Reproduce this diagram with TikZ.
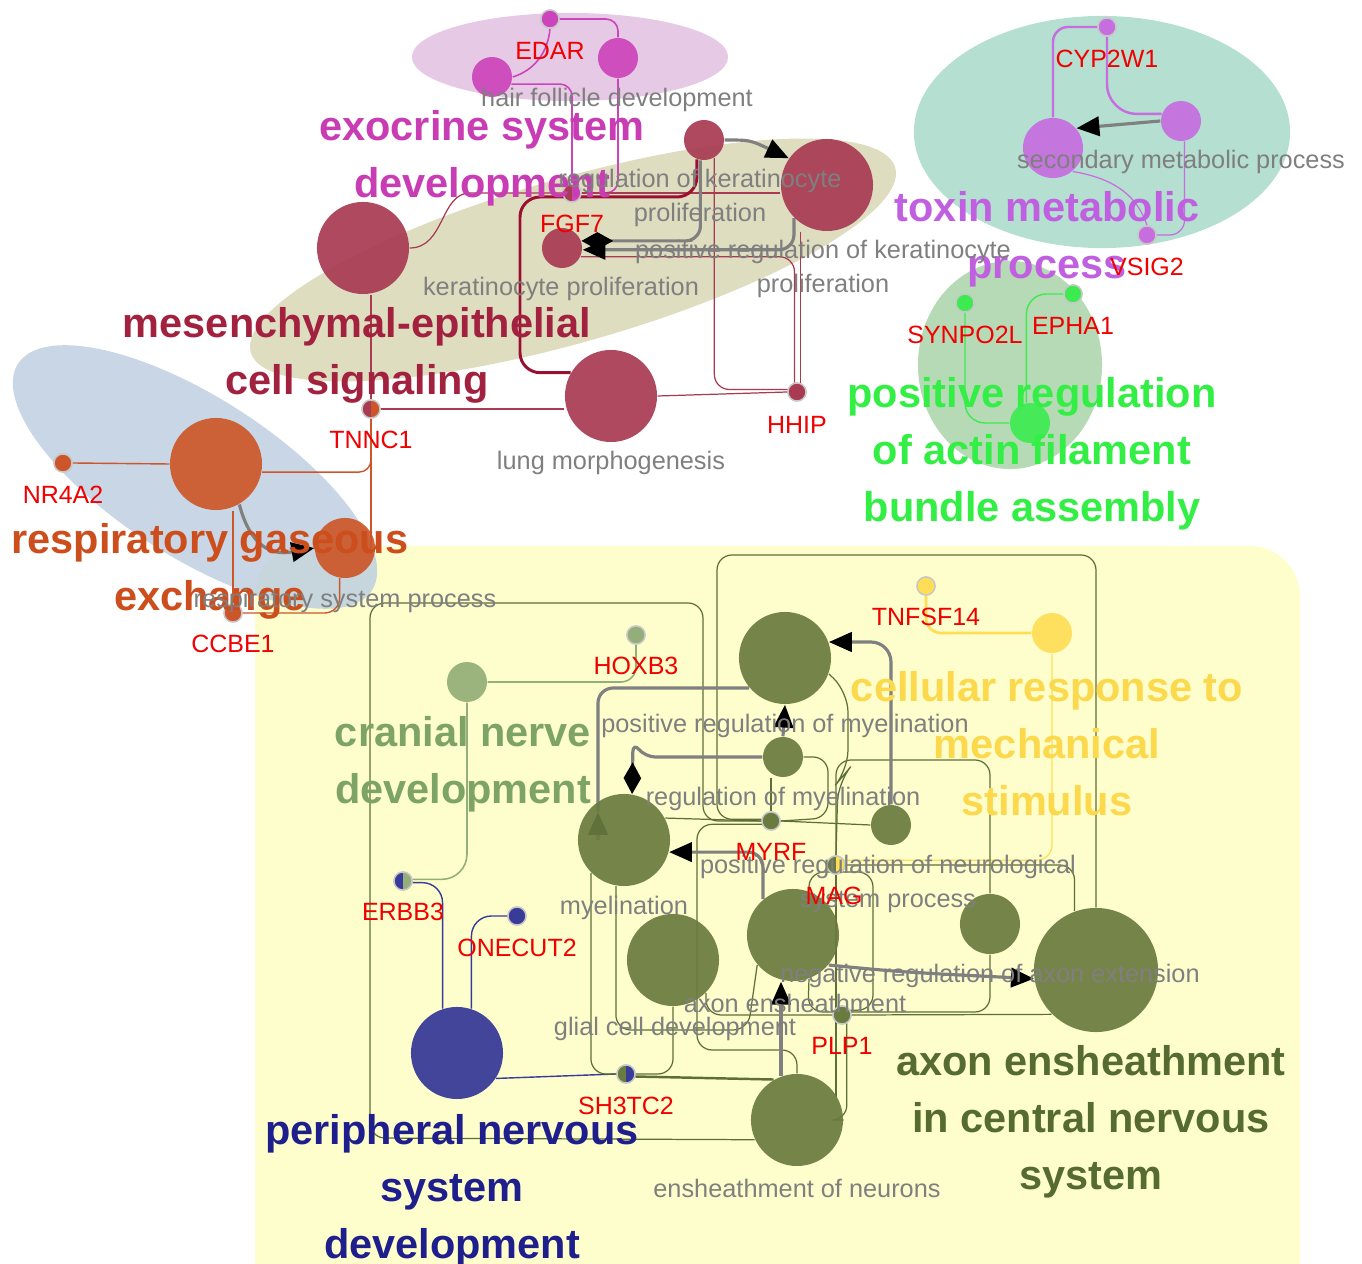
\documentclass[tikz,border=0pt]{standalone}
\usepackage{fontspec}
\setmainfont{Liberation Sans}
\usetikzlibrary{arrows.meta}
\definecolor{pinkbg}{HTML}{E6C9E4}
\definecolor{tealbg}{HTML}{B4DFD1}
\definecolor{khakibg}{HTML}{DEDDC0}
\definecolor{bluebg}{HTML}{BECFE0}
\definecolor{greenbg}{HTML}{B6DAB6}
\definecolor{yellowbg}{HTML}{FEFECC}
\definecolor{exomag}{HTML}{CC44BB}
\definecolor{exotext}{HTML}{C83CB4}
\definecolor{mescrim}{HTML}{A83A52}
\definecolor{mestext}{HTML}{A2213F}
\definecolor{mesdark}{HTML}{9A1030}
\definecolor{resporange}{HTML}{CC5629}
\definecolor{resptext}{HTML}{CC4E1C}
\definecolor{toxpurple}{HTML}{C66EE0}
\definecolor{toxtext}{HTML}{C060E0}
\definecolor{actgreen}{HTML}{3DEB50}
\definecolor{acttext}{HTML}{33EE44}
\definecolor{cranlight}{HTML}{93AE78}
\definecolor{crantext}{HTML}{7DA466}
\definecolor{mechyellow}{HTML}{FFDE55}
\definecolor{mechtext}{HTML}{FCD84C}
\definecolor{pnsblue}{HTML}{383C98}
\definecolor{pnstext}{HTML}{1E1E8C}
\definecolor{axolive}{HTML}{6A7B40}
\definecolor{axline}{HTML}{5E6E38}
\definecolor{axtext}{HTML}{556B2F}
\definecolor{gotext}{HTML}{7F7F7F}
\definecolor{genered}{HTML}{F00000}
\begin{document}
\begin{tikzpicture}[x=0.01cm,y=-0.01cm,
	term/.style={circle,inner sep=0pt},
	tsmall/.style={term,minimum size=0.4cm},
	tmid/.style={term,minimum size=0.6cm},
	tbig/.style={term,minimum size=0.92cm},
	thuge/.style={term,minimum size=1.24cm},
	gene/.style={circle,inner sep=0pt,minimum size=0.18cm,draw=black!22,line width=0.4pt},
	halfgene/.style 2 args={gene,fill=#1,path picture={\fill[#2] (path picture bounding box.north) rectangle (path picture bounding box.south east);}},
	golab/.style={text=gotext,font=\fontsize{7.2}{9.9}\selectfont,align=center,inner sep=0pt},
	genelab/.style={text=genered,font=\fontsize{7.1}{9}\selectfont,inner sep=0pt},
	grouplab/.style={font=\fontsize{11.8}{16.2}\selectfont\bfseries,align=center,inner sep=0pt},
	gedge/.style={draw=black!50,line width=0.9pt},
	tri/.style={-{Triangle[length=6.5pt,width=5.5pt,black]}},
	dia/.style={-{Diamond[length=9pt,width=5pt,black]}},
	exoedge/.style={draw=exomag,line width=0.45pt},
	mesedge/.style={draw=mescrim,line width=0.35pt},
	mesthick/.style={draw=mesdark,line width=0.85pt},
	respedge/.style={draw=resporange,line width=0.4pt},
	toxedge/.style={draw=toxpurple,line width=0.7pt},
	toxthin/.style={draw=toxpurple,line width=0.35pt},
	actedge/.style={draw=actgreen,line width=0.4pt},
	cranedge/.style={draw=cranlight,line width=0.45pt},
	pnsedge/.style={draw=pnsblue,line width=0.4pt},
	mechedge/.style={draw=mechyellow,line width=0.75pt},
	mechthin/.style={draw=mechyellow,line width=0.35pt},
	axedge/.style={draw=axline,line width=0.35pt}]
	\clip (0,0) rectangle (1362,1264);
	% cluster backgrounds
	\fill[yellowbg,rounded corners=0.5cm] (255,546) rectangle (1300,1320);
	\fill[pinkbg] (570,57) ellipse [x radius=1.58cm,y radius=0.44cm];
	\fill[tealbg] (1102,132) ellipse [x radius=1.88cm,y radius=1.16cm];
	\fill[khakibg,rotate around={16:(573,260)}] (573,260) ellipse [x radius=3.35cm,y radius=0.82cm];
	\fill[bluebg,fill opacity=0.85,rotate around={-32.6:(195,477)}] (195,477) ellipse [x radius=2.1cm,y radius=0.8cm];
	\fill[greenbg] (1010,365) ellipse [x radius=0.92cm,y radius=1.04cm];
	% gene nodes
	\node[gene,fill=exomag] (edar) at (550,19) {};
	\node[halfgene={mescrim}{exomag}] (fgf7) at (572,193) {};
	\node[gene,fill=mescrim] (hhip) at (797,392) {};
	\node[halfgene={mescrim}{resporange}] (tnnc1) at (371,409) {};
	\node[gene,fill=resporange] (nr4a2) at (63,463) {};
	\node[gene,fill=resporange] (ccbe1) at (233,613) {};
	\node[gene,fill=toxpurple] (cyp2w1) at (1107,27) {};
	\node[gene,fill=toxpurple] (vsig2) at (1147,235) {};
	\node[gene,fill=actgreen] (synpo2l) at (965,303) {};
	\node[gene,fill=actgreen] (epha1) at (1073,294) {};
	\node[gene,fill=cranlight] (hoxb3) at (636,635) {};
	\node[gene,fill=mechyellow] (tnfsf14) at (926,586) {};
	\node[halfgene={pnsblue}{cranlight}] (erbb3) at (403,881) {};
	\node[gene,fill=pnsblue] (onecut2) at (517,916) {};
	\node[halfgene={axolive}{pnsblue}] (sh3tc2) at (626,1074) {};
	\node[gene,fill=axolive] (myrf) at (771,821) {};
	\node[halfgene={axolive}{mechyellow}] (mag) at (836,865) {};
	\node[gene,fill=axolive] (plp1) at (842,1015) {};
	% term node positions
	\node[tsmall] (hair1) at (492,77) {}; \node[tsmall] (hair2) at (618,58) {};
	\node[tbig] (mes1) at (363,248) {}; \node[tsmall] (kp1) at (704,140) {};
	\node[tbig] (kp2) at (827,185) {}; \node[tsmall] (kp3) at (562,248) {};
	\node[tbig] (lung) at (611,396) {};
	\node[tbig] (resp1) at (216,464) {}; \node[tmid] (resp2) at (345,548) {};
	\node[tmid] (tox1) at (1053,148) {}; \node[tsmall] (tox2) at (1181,121) {};
	\node[tsmall] (act1) at (1030,423) {};
	\node[tsmall] (cran) at (467,682) {};
	\node[tsmall] (mech) at (1052,633) {};
	\node[tbig] (pns) at (457,1053) {};
	\node[tbig] (ax1) at (785,658) {}; \node[tsmall] (ax2) at (783,757) {};
	\node[tbig] (ax3) at (624,840) {}; \node[tsmall] (ax4) at (891,825) {};
	\node[tbig] (ax5) at (673,960) {}; \node[tbig] (ax6) at (793,935) {};
	\node[tmid] (ax7) at (990,924) {}; \node[thuge] (ax8) at (1096,970) {};
	\node[tbig] (ax9) at (797,1120) {};
	% edges, upper clusters
	\draw[exoedge,rounded corners=0.12cm] (edar.east) -| (hair2.north);
	\draw[exoedge] (edar.south) .. controls (548,52) and (535,70) .. (hair1.east);
	\draw[exoedge,rounded corners=0.12cm] (hair1.-20) -| (fgf7.north);
	\draw[exoedge,rounded corners=0.12cm] (hair2.south) |- (fgf7.east);
	\draw[mesedge] (mes1.east) .. controls (445,248) and (440,193) .. (470,193) -- (fgf7.west);
	\draw[mesedge] (fgf7.east) -- (fgf7.east -| kp2.west);
	\draw[mesthick,rounded corners=0.2cm] (kp1.-110) |- (520,197) |- (lung.150);
	\draw[mesedge] (tnnc1.north |- mes1.south) -- (tnnc1.north);
	\draw[mesedge] (tnnc1.east) -- (tnnc1.east -| lung.west);
	\draw[mesedge] (lung.east) -- (hhip.west);
	\draw[mesedge,rounded corners=0.15cm] (kp1.-60) |- (hhip.165);
	\draw[mesedge,rounded corners=0.15cm] (kp3.-25) -| (hhip.105);
	\draw[mesedge] (hhip.70 |- kp2.south) -- (hhip.70);
	\draw[gedge,tri] (kp1.east) .. controls (750,140) .. (kp2.145);
	\draw[gedge,dia,rounded corners=0.15cm] (kp1.-100) |- (kp3.20);
	\draw[gedge,tri,rounded corners=0.15cm] (kp2.-135) |- (kp3.-5);
	\draw[respedge] (resp1.west) -- (nr4a2.east);
	\draw[respedge,rounded corners=0.12cm] (resp1.-10) -| (tnnc1.south);
	\draw[respedge] (tnnc1.south) -- (tnnc1.south |- resp2.east);
	\draw[respedge] (ccbe1.north |- resp1.south) -- (ccbe1.north);
	\draw[respedge,rounded corners=0.15cm] (resp2.-100) |- (ccbe1.east);
	\draw[gedge,tri] (resp1.-60) .. controls (250,545) and (270,556) .. (resp2.west);
	\draw[toxedge,rounded corners=0.15cm] (cyp2w1.west) -| (tox1.north);
	\draw[toxedge,rounded corners=0.3cm] (cyp2w1.south) |- (tox2.160);
	\draw[gedge,tri] (tox2.west) -- (tox1.40);
	\draw[toxthin] (tox1.-50) .. controls (1125,180) and (1140,205) .. (vsig2.north);
	\draw[toxthin,rounded corners=0.15cm] (tox2.-80) |- (vsig2.east);
	\draw[actedge,rounded corners=0.2cm] (synpo2l.south) |- (act1.west);
	\draw[actedge,rounded corners=0.2cm] (epha1.west) -| (act1.100);
	% edges, lower clusters
	\draw[cranedge,rounded corners=0.15cm] (cran.east) -| (hoxb3.south);
	\draw[cranedge,rounded corners=0.25cm] (cran.south) |- (erbb3.10);
	\draw[pnsedge,rounded corners=0.2cm] (erbb3.-10) -| (pns.108);
	\draw[pnsedge,rounded corners=0.2cm] (onecut2.west) -| (pns.72);
	\draw[pnsedge] (pns.-33) -- (sh3tc2.west);
	\draw[mechedge,rounded corners=0.15cm] (tnfsf14.south) |- (mech.west);
	\draw[mechthin,rounded corners=0.15cm] (mech.south) |- (mag.30);
	\draw[axedge,rounded corners=0.15cm] (myrf.west) -| (703,603) -| (370,1138) -- (ax9.-155);
	\draw[axedge,rounded corners=0.15cm] (myrf.170) -| (717,555) -| (ax8.north);
	\draw[axedge] (myrf.north |- ax2.south) -- (myrf.north);
	\draw[axedge,rounded corners=0.2cm] (ax1.-20) -- (848,692) -- (848,770) -- (838,782) -- (mag.north);
	\draw[axedge,rounded corners=0.15cm] (ax2.east) -| (828,818) -- (myrf.east);
	\draw[axedge] (ax3.28) -- (myrf.west);
	\draw[axedge] (myrf.east) -- (ax4.west);
	\draw[axedge,rounded corners=0.15cm] (myrf.-160) -| (697,1050) -| (ax9.north);
	\draw[axedge,rounded corners=0.15cm] (ax3.-135) |- (sh3tc2.west);
	\draw[axedge,rounded corners=0.15cm] (ax3.-100) |- (748,1030) -- (ax6.-140);
	\draw[axedge,rounded corners=0.15cm] (sh3tc2.east) -| (ax5.south);
	\draw[axedge,line width=0.7pt] (sh3tc2.-15) -- (ax9.120);
	\draw[axedge,rounded corners=0.15cm] (plp1.-60) |- (ax9.east);
	\draw[axedge] (plp1.east) -- (ax8.-135);
	\draw[axedge,rounded corners=0.15cm] (plp1.west) -| (ax5.-45);
	\draw[axedge,rounded corners=0.15cm] (mag.east) -| (ax8.110);
	\draw[axedge,rounded corners=0.15cm] (mag.north) |- (900,760) -| (ax7.north);
	\draw[axedge,rounded corners=0.15cm] (ax7.south) |- (808,1012) -- (ax6.-70);
	\draw[axedge,rounded corners=0.15cm] (ax6.70) |- (873,872) |- (plp1.30);
	\draw[axedge] (mag.south) -- (mag.south |- ax9.30);
	\coordinate (upend) at (598,812);
	\draw[gedge,tri] (ax2.north) -- (ax1.south);
	\draw[gedge,dia,rounded corners=0.1cm] (ax2.west) -- (645,757) -- (633,742) -- (ax3.80);
	\draw[gedge,rounded corners=0.15cm] (ax1.-140) -| (upend);
	\draw[gedge,tri] (upend |- ax3.center) -- (upend);
	\draw[gedge,tri,rounded corners=0.2cm] (ax4.north) |- (ax1.20);
	\draw[gedge,tri,rounded corners=0.15cm] (ax6.130) |- (ax3.-15);
	\draw[gedge,tri] (ax9.110) -- (ax9.110 |- ax6.south);
	\draw[gedge,tri] (ax6.-40) .. controls (900,972) .. (ax8.188);
	% term nodes filled over the edges
	\foreach \n in {hair1,hair2} \fill[exomag,fill opacity=0.92] (\n) circle (0.2cm);
	\foreach \n/\r in {mes1/0.46,kp1/0.2,kp2/0.46,kp3/0.2,lung/0.46} \fill[mescrim,fill opacity=0.92] (\n) circle (\r cm);
	\foreach \n/\r in {resp1/0.46,resp2/0.3} \fill[resporange,fill opacity=0.92] (\n) circle (\r cm);
	\foreach \n/\r in {tox1/0.3,tox2/0.2} \fill[toxpurple,fill opacity=0.92] (\n) circle (\r cm);
	\fill[actgreen,fill opacity=0.92] (act1) circle (0.2cm);
	\fill[cranlight,fill opacity=0.92] (cran) circle (0.2cm);
	\fill[mechyellow,fill opacity=0.92] (mech) circle (0.2cm);
	\fill[pnsblue,fill opacity=0.95] (pns) circle (0.46cm);
	\foreach \n/\r in {ax1/0.46,ax2/0.2,ax3/0.46,ax4/0.2,ax5/0.46,ax6/0.46,ax7/0.3,ax8/0.62,ax9/0.46} \fill[axolive,fill opacity=0.92] (\n) circle (\r cm);
	% gene nodes again on top
	\node[gene,fill=exomag] at (edar) {};
	\node[halfgene={mescrim}{exomag}] at (fgf7) {};
	\node[gene,fill=mescrim] at (hhip) {};
	\node[halfgene={mescrim}{resporange}] at (tnnc1) {};
	\node[gene,fill=resporange] at (nr4a2) {};
	\node[gene,fill=resporange] at (ccbe1) {};
	\node[gene,fill=toxpurple] at (cyp2w1) {};
	\node[gene,fill=toxpurple] at (vsig2) {};
	\node[gene,fill=actgreen] at (synpo2l) {};
	\node[gene,fill=actgreen] at (epha1) {};
	\node[gene,fill=cranlight] at (hoxb3) {};
	\node[gene,fill=mechyellow] at (tnfsf14) {};
	\node[halfgene={pnsblue}{cranlight}] at (erbb3) {};
	\node[gene,fill=pnsblue] at (onecut2) {};
	\node[halfgene={axolive}{pnsblue}] at (sh3tc2) {};
	\node[gene,fill=axolive] at (myrf) {};
	\node[halfgene={axolive}{mechyellow}] at (mag) {};
	\node[gene,fill=axolive] at (plp1) {};
	\begin{scope}[yshift=-0.03cm]
	% group labels
	\node[grouplab,text=exotext] (exolab) at (482,155) {exocrine system\\development};
	\node[grouplab,text=mestext] (meslab) at (357,352) {mesenchymal-epithelial\\cell signaling};
	\node[grouplab,text=toxtext] (toxlab) at (1047,236) {toxin metabolic\\process};
	\node[grouplab,text=acttext] (actlab) at (1032,451) {positive regulation\\of actin filament\\bundle assembly};
	\node[grouplab,text=resptext] (resplab) at (210,568) {respiratory gaseous\\exchange};
	\node[grouplab,text=crantext] (cranlab) at (463,761) {cranial nerve\\development};
	\node[grouplab,text=mechtext] (mechlab) at (1047,741) {cellular response to\\mechanical\\stimulus};
	\node[grouplab,text=pnstext] (pnslab) at (452,1188) {peripheral nervous\\system\\development};
	\node[grouplab,text=axtext] (axlab) at (1091,1119) {axon ensheathment\\in central nervous\\system};
	% term labels
	\node[golab] at (617,97) {hair follicle development};
	\node[golab] at (700,195) {regulation of keratinocyte\\proliferation};
	\node[golab] at (823,266) {positive regulation of keratinocyte\\proliferation};
	\node[golab] at (561,286) {keratinocyte proliferation};
	\node[golab] at (611,460) {lung morphogenesis};
	\node[golab] at (1181,159) {secondary metabolic process};
	\node[golab] at (345,598) {respiratory system process};
	\node[golab] at (785,723) {positive regulation of myelination};
	\node[golab] at (783,796) {regulation of myelination};
	\node[golab] at (624,905) {myelination};
	\node[golab] at (888,881) {positive regulation of neurological\\system process};
	\node[golab] at (990,973) {negative regulation of axon extension};
	\node[golab] at (795,1000) {axon ensheathment};
	\node[golab] at (675,1026) {glial cell development};
	\node[golab] at (797,1185) {ensheathment of neurons};
	% gene labels
	\node[genelab] at (550,48) {EDAR};
	\node[genelab] at (572,221) {FGF7};
	\node[genelab] at (797,422) {HHIP};
	\node[genelab] at (371,437) {TNNC1};
	\node[genelab] at (63,492) {NR4A2};
	\node[genelab] at (233,641) {CCBE1};
	\node[genelab] at (1107,56) {CYP2W1};
	\node[genelab] at (1147,264) {VSIG2};
	\node[genelab] at (965,332) {SYNPO2L};
	\node[genelab] at (1073,323) {EPHA1};
	\node[genelab] at (636,663) {HOXB3};
	\node[genelab] at (926,614) {TNFSF14};
	\node[genelab] at (403,909) {ERBB3};
	\node[genelab] at (517,945) {ONECUT2};
	\node[genelab] at (626,1103) {SH3TC2};
	\node[genelab] at (771,849) {MYRF};
	\node[genelab] at (834,893) {MAG};
	\node[genelab] at (842,1043) {PLP1};
	\end{scope}
\end{tikzpicture}
\end{document}
